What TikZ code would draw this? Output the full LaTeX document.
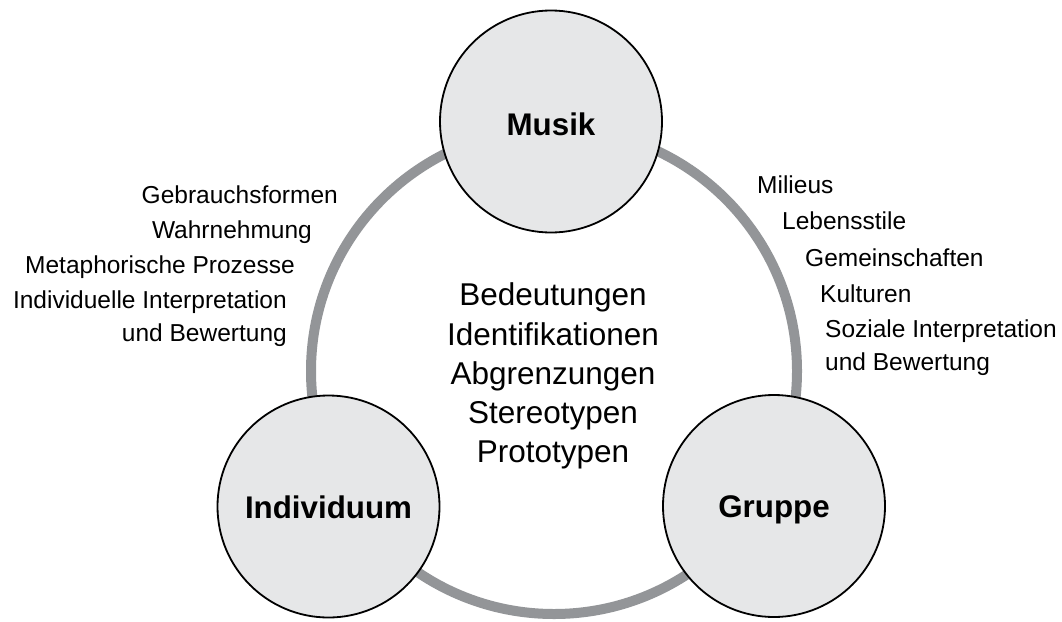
\documentclass[tikz,border=0pt]{standalone}
\usepackage{fontspec}
\setmainfont{Liberation Sans}
\definecolor{ringgray}{HTML}{939598}
\definecolor{bubblefill}{HTML}{E6E7E8}
\begin{document}
\begin{tikzpicture}[x=1pt,y=-1pt,
  ring/.style={draw=ringgray, line width=10pt},
  bubble/.style={circle, draw=black, line width=1.8pt, fill=bubblefill, minimum size=222pt, inner sep=0pt,
    font=\fontsize{31.3}{36}\selectfont\bfseries, text height=23pt, text depth=0pt},
  midtxt/.style={font=\fontsize{31.5}{36}\selectfont, anchor=base, inner sep=0pt},
  lefttxt/.style={font=\fontsize{24.5}{28}\selectfont, anchor=base east, inner sep=0pt},
  righttxt/.style={font=\fontsize{24.5}{28}\selectfont, anchor=base west, inner sep=0pt}]
\useasboundingbox (0,0) rectangle (1062,621);
\coordinate (ringc) at (554,371);
\draw[ring] (ringc) circle[radius=243];
\node[bubble, text height=27pt] (musik) at (551,121.5) {Musik};
\node[bubble] (indiv) at (328.5,506.5) {Individuum};
\node[bubble] (gruppe) at (774,506) {Gruppe};
% centre text
\node[midtxt] (m1) at (553,305) {Bedeutungen};
\node[midtxt] (m2) at (553,345) {Identifikationen};
\node[midtxt] (m3) at (553,384) {Abgrenzungen};
\node[midtxt] (m4) at (553,423) {Stereotypen};
\node[midtxt] (m5) at (553,462) {Prototypen};
% left labels
\node[lefttxt] (l1) at (338,203) {Gebrauchsformen};
\node[lefttxt] (l2) at (312,238) {Wahrnehmung};
\node[lefttxt] (l3) at (295,273) {Metaphorische Prozesse};
\node[lefttxt] (l4) at (287,308) {Individuelle Interpretation};
\node[lefttxt] (l5) at (287,341) {und Bewertung};
% right labels
\node[righttxt] (r1) at (757,193) {Milieus};
\node[righttxt] (r2) at (782,229) {Lebensstile};
\node[righttxt] (r3) at (805,266) {Gemeinschaften};
\node[righttxt] (r4) at (820,302) {Kulturen};
\node[righttxt] (r5) at (825,337) {Soziale Interpretation};
\node[righttxt] (r6) at (825,370) {und Bewertung};
\end{tikzpicture}
\end{document}
